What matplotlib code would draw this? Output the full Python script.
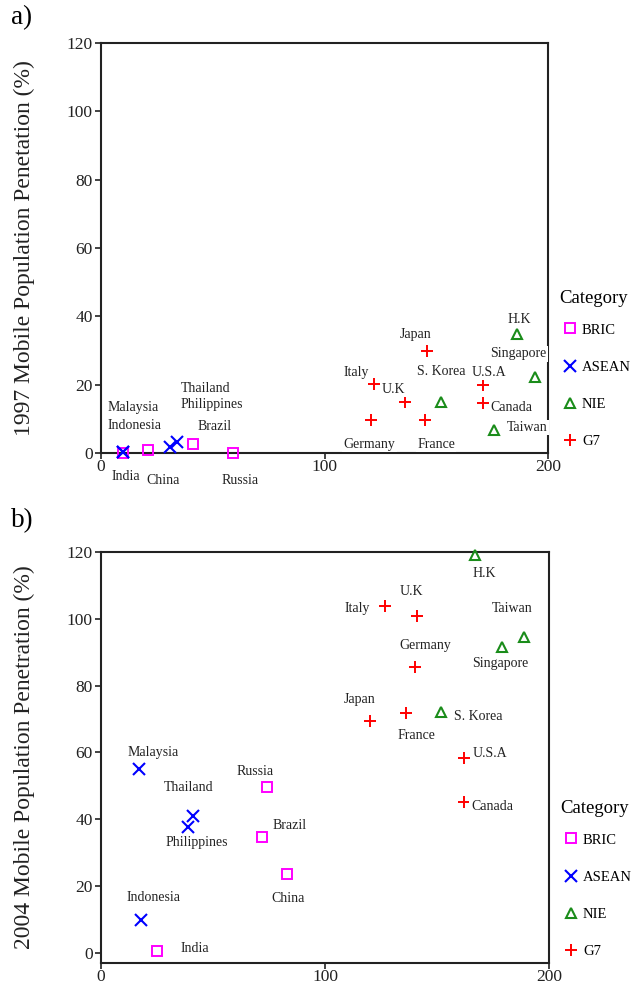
import matplotlib
matplotlib.use("Agg")
import matplotlib.pyplot as plt
from matplotlib.lines import Line2D

plt.rcParams['font.family'] = ['Liberation Serif', 'DejaVu Serif']

# ---------------- data ----------------
countries = ["India", "China", "Brazil", "Russia",
             "Malaysia", "Indonesia", "Thailand", "Philippines",
             "Japan", "Italy", "U.K", "Germany", "France", "U.S.A", "Canada",
             "S. Korea", "H.K", "Singapore", "Taiwan"]
category = ["BRIC", "BRIC", "BRIC", "BRIC",
            "ASEAN", "ASEAN", "ASEAN", "ASEAN",
            "G7", "G7", "G7", "G7", "G7", "G7", "G7",
            "NIE", "NIE", "NIE", "NIE"]

x_1997 = [10, 21, 41, 59, 10, 10, 34, 31,
          146, 122, 136, 121, 145, 171, 171,
          152, 186, 194, 176]
y_1997 = [0, 0.8, 2.5, 0, 0.3, 0.3, 3.2, 1.8,
          30, 20.3, 14.8, 9.6, 9.6, 19.8, 14.5,
          15.0, 34.8, 22.3, 6.6]

x_2004 = [25, 83, 72, 74, 17, 18, 41, 39,
          120, 127, 141, 140, 136, 162, 162,
          152, 167, 179, 189]
y_2004 = [0.5, 23.6, 34.8, 49.8, 55.2, 10, 41.1, 37.8,
          69.4, 103.8, 100.8, 85.5, 71.7, 58.3, 45.1,
          72.0, 119.1, 91.5, 94.6]

cat_order = ["BRIC", "ASEAN", "NIE", "G7"]
x_ticks = [0, 100, 200]
y_ticks = [0, 20, 40, 60, 80, 100, 120]

# ---------------- styles / layout ----------------
styles = {
    "BRIC": dict(marker="s", mfc="none", mec="#ff00ff", ms=7.5, mew=1.4),
    "ASEAN": dict(marker="x", mfc="none", mec="#0000ff", ms=8, mew=1.5),
    "NIE": dict(marker="^", mfc="none", mec="#1a8c1a", ms=6.5, mew=1.5),
    "G7": dict(marker="+", mfc="none", mec="#ff0000", ms=9, mew=1.4),
}

# label offsets (pixels, relative to the marker)
off_1997 = {
    "India": (2, -24), "China": (15, -30), "Brazil": (22, 18), "Russia": (7, -27),
    "Malaysia": (10, 44), "Indonesia": (11, 26), "Thailand": (29, 54),
    "Philippines": (41, 42), "Japan": (-12, 16), "Italy": (-17, 11),
    "U.K": (-12, 13), "Germany": (-2, -24), "France": (11, -24),
    "U.S.A": (6, 13), "Canada": (28, -4), "S. Korea": (1, 30),
    "H.K": (3, 15), "Singapore": (-16, 23), "Taiwan": (33, 3),
}
off_2004 = {
    "India": (38, 3), "China": (1, -24), "Brazil": (27, 11), "Russia": (-12, 15),
    "Malaysia": (14, 16), "Indonesia": (12, 22), "Thailand": (-4, 28),
    "Philippines": (8, -16), "Japan": (-10, 22), "Italy": (-28, -2),
    "U.K": (-5, 25), "Germany": (11, 22), "France": (11, -22),
    "U.S.A": (26, 5), "Canada": (28, -4), "S. Korea": (37, -4),
    "H.K": (9, -18), "Singapore": (-2, -16), "Taiwan": (-12, 28),
}

W, H = 636, 985
fig = plt.figure(figsize=(W / 100, H / 100), dpi=100)

panels = [
    dict(rect=[101 / W, 1 - 453 / H, 447 / W, 410 / H], xs=x_1997, ys=y_1997,
         offs=off_1997, ylim=(0, 120),
         ylabel="1997 Mobile Population Penetation (%)", tag="a)", tag_y=1 - 18 / H),
    dict(rect=[101 / W, 1 - 963 / H, 448 / W, 411 / H], xs=x_2004, ys=y_2004,
         offs=off_2004, ylim=(-3, 120),
         ylabel="2004 Mobile Population Penetration (%)", tag="b)", tag_y=1 - 521 / H),
]

for p in panels:
    ax = fig.add_axes(p["rect"])
    for c, xv, yv, cat in zip(countries, p["xs"], p["ys"], category):
        ax.plot([xv], [yv], linestyle="none", clip_on=False, zorder=3, **styles[cat])
        dx, dy = p["offs"][c]
        ax.annotate(c, (xv, yv), xytext=(dx, dy), textcoords="offset pixels",
                    ha="center", va="center", fontsize=10, color="#222222",
                    annotation_clip=False, zorder=5,
                    bbox=dict(boxstyle="square,pad=0.1", fc="white", ec="none"))
    ax.set_xlim(0, 200)
    ax.set_ylim(*p["ylim"])
    ax.set_xticks(x_ticks)
    ax.set_yticks(y_ticks)
    ax.tick_params(direction="out", length=4, width=1.2, labelsize=12.5,
                   colors="#222222", pad=2)
    ax.tick_params(axis="x", pad=0.5)
    for s in ax.spines.values():
        s.set_linewidth(1.5)
        s.set_color("#222222")
        s.set_zorder(2)
    ax.set_ylabel(p["ylabel"], fontsize=17, color="#222222")
    ax.yaxis.set_label_coords(-0.147, 0.5)
    fig.text(11 / W, p["tag_y"], p["tag"], fontsize=19.5, va="center", ha="left")

    handles = [Line2D([], [], linestyle="none", **styles[k]) for k in cat_order]
    leg = ax.legend(handles, cat_order, title="Category", loc="lower left",
                    bbox_to_anchor=(1.006, -0.01), frameon=False, fontsize=10.5,
                    title_fontsize=13.5, labelspacing=1.65, handlelength=1.5,
                    handletextpad=0.05, borderaxespad=0.2)
    leg._legend_box.align = "left"
    leg._legend_box.sep = 12

fig.savefig("out.png", dpi=100)
